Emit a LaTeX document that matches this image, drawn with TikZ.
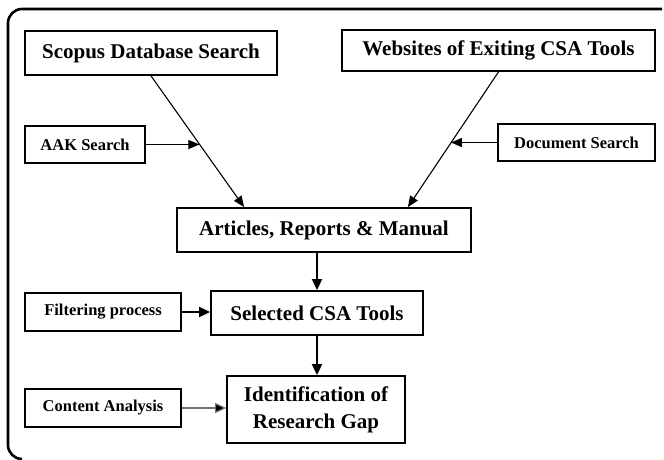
\documentclass[tikz,border=0pt]{standalone}
\usepackage{fontspec}
\setmainfont{Liberation Serif}
\usetikzlibrary{arrows.meta,calc}
\tikzset{
  box/.style={draw=black, line width=1.8pt, inner sep=0pt, align=center, font=\fontsize{21}{27}\selectfont\bfseries},
  sbox/.style={box, font=\fontsize{16.5}{20}\selectfont\bfseries},
  conn/.style={line width=1.1pt, -{Triangle[length=11pt,width=9pt]}},
  vconn/.style={line width=1.8pt, -{Triangle[length=11pt,width=10pt]}},
  frame/.style={line width=2.6pt, rounded corners=14pt}
}
\begin{document}
\begin{tikzpicture}[x=1pt,y=-1pt]
\useasboundingbox (0,0) rectangle (664,460);
\draw[frame] (22,459) -- (8,459) -- (8,9) -- (662,9);

\node[box, minimum width=252pt, minimum height=44pt] (scopus) at (151,53) {Scopus Database Search};
\node[box, minimum width=313pt, minimum height=41pt] (web) at (498.5,50.5) {Websites of Exiting CSA Tools};
\node[sbox, minimum width=120pt, minimum height=37pt] (aak) at (85,144.5) {AAK Search};
\node[sbox, minimum width=157pt, minimum height=37pt] (doc) at (576.5,142.5) {Document Search};
\node[box, minimum width=294pt, minimum height=44pt] (art) at (324,230) {Articles, Reports \& Manual};
\node[sbox, minimum width=156pt, minimum height=38pt] (filt) at (103,312) {Filtering process};
\node[box, minimum width=212pt, minimum height=44pt] (sel) at (317,313) {Selected CSA Tools};
\node[sbox, minimum width=156pt, minimum height=38pt] (cont) at (103,408) {Content Analysis};
\node[box, minimum width=178pt, minimum height=67pt] (ident) at (316,409.5) {Identification of\\Research Gap};

\coordinate (e1) at ($(art.north west)+(68,0)$);
\coordinate (e2) at ($(art.north east)+(-64,0)$);
\draw[conn] (scopus.south) -- (e1);
\draw[conn] (web.south) -- (e2);
\coordinate (j1) at ($(scopus.south)!0.52!(e1)$);
\coordinate (j2) at ($(web.south)!0.525!(e2)$);
\draw[conn] (aak.east) -- (aak.east -| j1);
\draw[conn] (doc.west) -- (doc.west -| j2);
\draw[vconn] (sel.north |- art.south) -- (sel.north);
\draw[vconn] (sel.south) -- (sel.south |- ident.north);
\draw[vconn] (filt.east) -- (filt.east -| sel.west);
\draw[line width=1.1pt, draw=black!55, -{Triangle[length=11pt,width=10pt,fill=black]}] (cont.east) -- (cont.east -| ident.west);
\end{tikzpicture}
\end{document}
